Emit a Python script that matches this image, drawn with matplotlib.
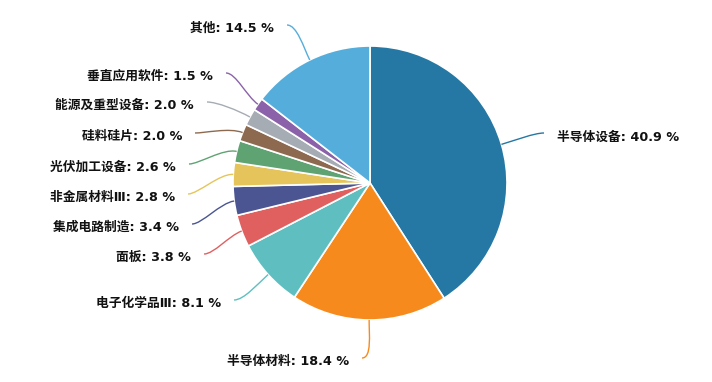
import matplotlib
matplotlib.use('Agg')
import matplotlib.pyplot as plt
import numpy as np
from matplotlib.path import Path
from matplotlib.patches import PathPatch

plt.rcParams['font.family'] = ['DejaVu Sans', 'Noto Sans CJK SC']

labels = ['半导体设备', '半导体材料', '电子化学品Ⅲ', '面板', '集成电路制造',
          '非金属材料Ⅲ', '光伏加工设备', '硅料硅片', '能源及重型设备',
          '垂直应用软件', '其他']
values = [40.9, 18.4, 8.1, 3.8, 3.4, 2.8, 2.6, 2.0, 2.0, 1.5, 14.5]
colors = ['#2577a4', '#f78a1d', '#5fbfc0', '#e06060', '#4a5592',
          '#e5c55b', '#60a373', '#8d6a4f', '#a6acb3', '#8b62aa', '#55addb']

# label anchor positions in pixels (x, y from top, side)
label_pos = [(557, 137, 'r'), (349, 361, 'l'), (221, 303, 'l'), (191, 257, 'l'),
             (179, 227, 'l'), (175, 197, 'l'), (176, 167, 'l'), (182, 136, 'l'),
             (194, 105, 'l'), (213, 76, 'l'), (274, 28, 'l')]

W, H = 712, 382
cx, cy, r = 370, H - 183, 137

fig = plt.figure(figsize=(W / 100, H / 100), dpi=100)
ax = fig.add_axes([0, 0, 1, 1])
ax.pie(values, colors=colors, startangle=90, counterclock=False,
       center=(cx, cy), radius=r,
       wedgeprops=dict(edgecolor='white', linewidth=1.2))
ax.set_xlim(0, W)
ax.set_ylim(0, H)
ax.set_aspect('equal')
ax.axis('off')

total = sum(values)
cum = 0
for lab, v, c, (tx, ty, side) in zip(labels, values, colors, label_pos):
    ang = np.deg2rad(90 - 360 * (cum + v / 2) / total)
    cum += v
    dx, dy = np.cos(ang), np.sin(ang)
    p0 = (cx + r * dx, cy + r * dy)
    ty = H - ty
    if side == 'l':
        end = (tx + 13, ty + 3)
        c2 = (end[0] + 10, end[1])
        ha = 'right'
    else:
        end = (tx - 13, ty + 4)
        c2 = (end[0] - 10, end[1])
        ha = 'left'
    c1 = (p0[0] + dx * 14, p0[1] + dy * 14)
    path = Path([p0, c1, c2, end], [Path.MOVETO, Path.CURVE4, Path.CURVE4, Path.CURVE4])
    ax.add_patch(PathPatch(path, facecolor='none', edgecolor=c, linewidth=1))
    ax.text(tx, ty, f'{lab}: {v:.1f} %', ha=ha, va='center', fontsize=9.2,
            fontweight='bold', color='#111111')

fig.savefig('out.png', dpi=100)
